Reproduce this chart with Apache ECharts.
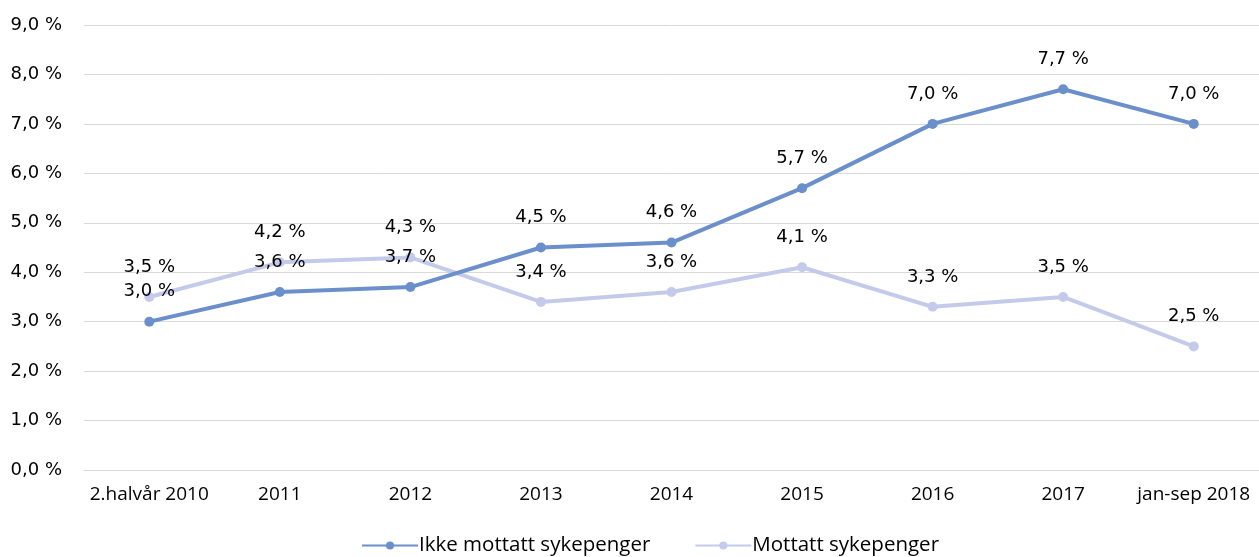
<!DOCTYPE html>
<html>
<head>
<meta charset="utf-8">
<script src="https://cdn.jsdelivr.net/npm/echarts@6/dist/echarts.min.js"></script>
<style>
  html, body { margin: 0; padding: 0; background: #ffffff; }
  #main { width: 1259px; height: 557px; }
</style>
</head>
<body>
<div id="main"></div>
<script>
const categories = ["2.halvår 2010", "2011", "2012", "2013", "2014", "2015", "2016", "2017", "jan-sep 2018"];
const ikkeMottatt = [3.0, 3.6, 3.7, 4.5, 4.6, 5.7, 7.0, 7.7, 7.0];
const mottatt = [3.5, 4.2, 4.3, 3.4, 3.6, 4.1, 3.3, 3.5, 2.5];
const seriesNames = ["Ikke mottatt sykepenger", "Mottatt sykepenger"];

const fmt = v => v.toFixed(1).replace(".", ",") + " %";
const labelFont = "DejaVu Sans";
const catFont = "Open Sans";

let myChart = echarts.init(document.getElementById("main"));
let option = {
  animation: false,
  grid: {
    left: 84,
    right: 0,
    top: 25,
    bottom: 87
  },
  legend: {
    data: seriesNames,
    bottom: -4,
    left: 356,
    itemWidth: 56,
    itemHeight: 10,
    itemGap: 44,
    textStyle: {
      fontFamily: catFont,
      fontSize: 20.5,
      color: "#000000",
      padding: [0, 0, 0, -4]
    }
  },
  xAxis: {
    type: "category",
    data: categories,
    axisLine: { lineStyle: { color: "#d9d9d9" } },
    axisTick: { show: false },
    axisLabel: {
      interval: 0,
      fontFamily: catFont,
      fontSize: 19,
      color: "#000000",
      margin: 15
    }
  },
  yAxis: {
    type: "value",
    min: 0,
    max: 9,
    interval: 1,
    axisLine: { show: false },
    axisTick: { show: false },
    splitLine: { lineStyle: { color: "#d9d9d9", width: 1 } },
    axisLabel: {
      fontFamily: labelFont,
      fontSize: 18,
      color: "#000000",
      margin: 22,
      formatter: v => fmt(v)
    }
  },
  series: [
    {
      name: seriesNames[1],
      type: "line",
      data: mottatt,
      z: 2,
      symbol: "circle",
      symbolSize: 10,
      color: "#c4cbea",
      lineStyle: { width: 4, color: "#c4cbea" },
      label: {
        show: true,
        position: "top",
        distance: 16,
        fontFamily: labelFont,
        fontSize: 18,
        color: "#000000",
        formatter: p => fmt(p.value)
      }
    },
    {
      name: seriesNames[0],
      type: "line",
      data: ikkeMottatt,
      z: 3,
      symbol: "circle",
      symbolSize: 10,
      color: "#6a8fcb",
      lineStyle: { width: 4, color: "#6a8fcb" },
      label: {
        show: true,
        position: "top",
        distance: 16,
        fontFamily: labelFont,
        fontSize: 18,
        color: "#000000",
        formatter: p => fmt(p.value)
      }
    }
  ]
};
myChart.setOption(option);
</script>
</body>
</html>
